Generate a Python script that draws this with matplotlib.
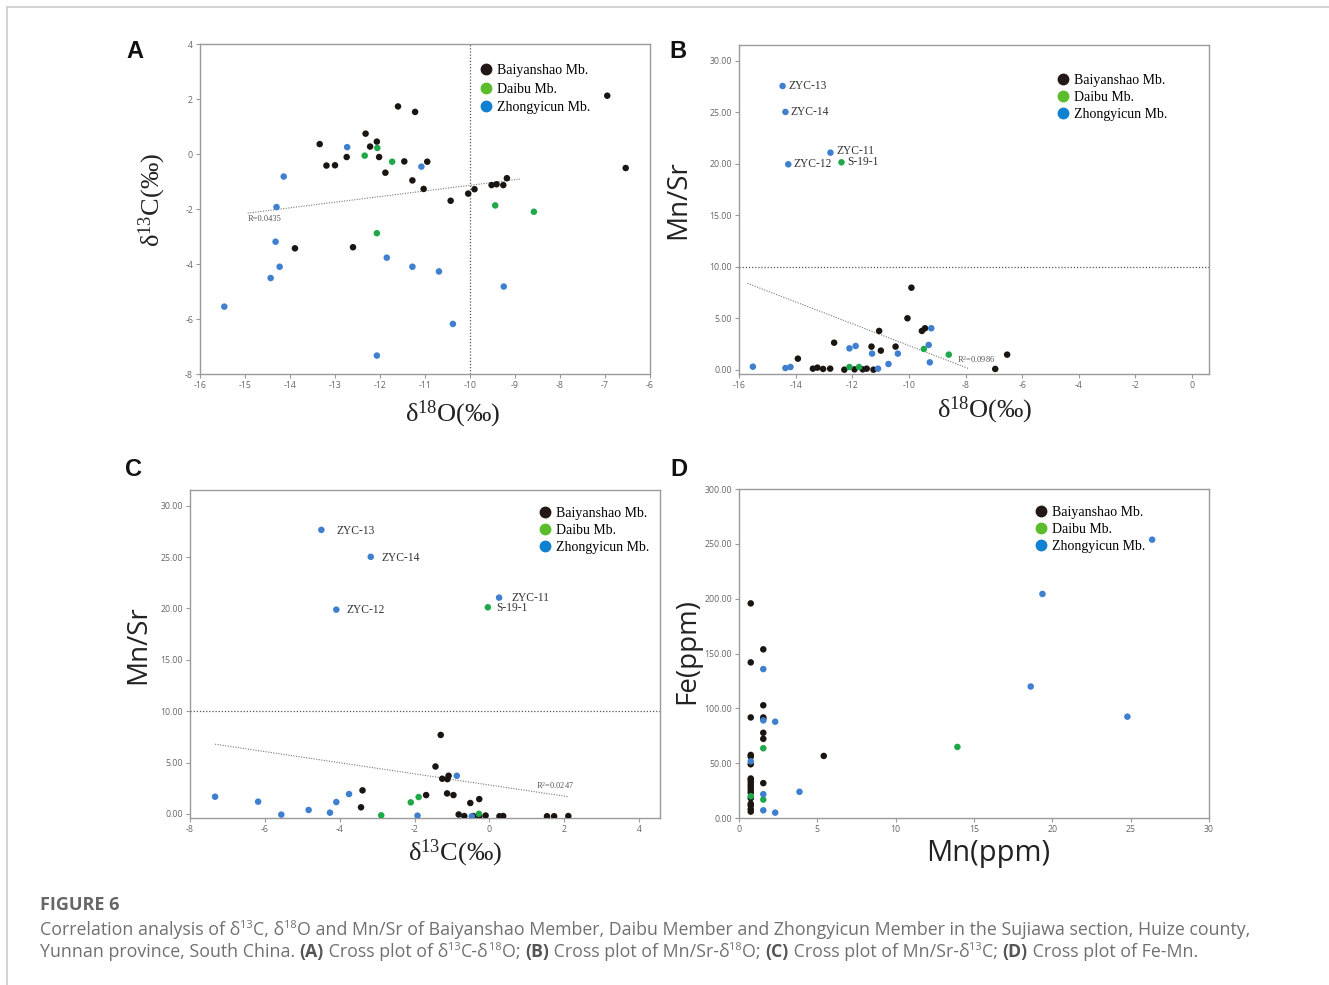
import matplotlib
matplotlib.use('Agg')
import matplotlib.pyplot as plt
from matplotlib.lines import Line2D

plt.rcParams['axes.unicode_minus'] = False
plt.rcParams['mathtext.fontset'] = 'custom'
plt.rcParams['mathtext.rm'] = 'Liberation Serif'
plt.rcParams['mathtext.it'] = 'Liberation Serif:italic'

################################################################################################
# DATA
################################################################################################

groups = ['Baiyanshao Mb.', 'Daibu Mb.', 'Zhongyicun Mb.']

# A: d13C vs d18O
a_black_x = [-13.34, -13.19, -13.00, -12.74, -12.32, -12.22, -12.07, -12.02, -11.60, -11.22, -11.46, -11.88, -11.28,
             -10.95, -11.03, -10.43, -10.04, -9.90, -9.52, -9.41, -9.26, -9.18, -6.95, -6.54, -13.89, -12.60]
a_black_y = [0.36, -0.42, -0.41, -0.11, 0.74, 0.27, 0.45, -0.11, 1.73, 1.53, -0.27, -0.68, -0.96,
             -0.28, -1.27, -1.70, -1.44, -1.28, -1.13, -1.10, -1.13, -0.88, 2.12, -0.51, -3.43, -3.39]
a_green_x = [-12.34, -12.06, -11.73, -12.07, -9.44, -8.58]
a_green_y = [-0.06, 0.22, -0.28, -2.88, -1.87, -2.10]
a_blue_x = [-12.73, -11.08, -14.14, -14.30, -14.32, -14.23, -14.43, -15.46, -11.85, -11.28, -10.69, -9.25, -10.38, -12.07]
a_blue_y = [0.25, -0.46, -0.82, -1.93, -3.19, -4.10, -4.51, -5.55, -3.77, -4.10, -4.27, -4.82, -6.18, -7.33]
a_trend_x = [-14.94, -8.89]
a_trend_y = [-2.15, -0.91]
a_r_text = 'R=0.0435'
a_cutoff_x = -10

# B: Mn/Sr vs d18O
b_black_x = [-9.91, -10.05, -11.05, -9.54, -9.43, -12.64, -11.32, -10.47, -10.99, -13.92, -6.53, -6.95,
             -13.39, -13.23, -13.03, -12.78, -12.28, -11.92, -11.63, -11.49, -11.25]
b_black_y = [7.99, 5.02, 3.79, 3.79, 4.05, 2.65, 2.27, 2.27, 1.88, 1.10, 1.49, 0.10,
             0.13, 0.23, 0.10, 0.13, 0.03, 0.06, 0.06, 0.13, 0.03]
b_green_x = [-12.38, -9.47, -8.59, -12.10, -11.76]
b_green_y = [20.16, 2.04, 1.49, 0.29, 0.29]
b_blue_x = [-14.46, -14.36, -12.77, -14.26, -9.21, -9.30, -9.26, -11.88, -12.10, -11.30, -10.39, -10.72,
            -11.09, -15.51, -14.36, -14.18]
b_blue_y = [27.57, 25.05, 21.10, 19.97, 4.05, 2.43, 0.74, 2.33, 2.10, 1.59, 1.59, 0.58,
            0.13, 0.32, 0.19, 0.29]
b_trend_x = [-15.70, -7.91]
b_trend_y = [8.41, 0.16]
b_r_text = 'R$^2$=0.0986'

# C: Mn/Sr vs d13C
c_black_x = [-1.30, -1.44, -1.26, -1.12, -1.09, -3.39, -1.69, -1.13, -0.96, -0.51, -0.27, -3.43,
             -0.82, -0.67, -0.43, -0.27, -0.10, 0.27, 0.37, 1.54, 1.73, 2.11]
c_black_y = [7.69, 4.62, 3.43, 3.39, 3.72, 2.30, 1.84, 2.00, 1.84, 1.07, 1.45, 0.65,
             -0.05, -0.20, -0.20, -0.20, -0.15, -0.22, -0.20, -0.22, -0.22, -0.20]
c_green_x = [-0.04, -1.89, -2.10, -2.89, -0.28]
c_green_y = [20.11, 1.65, 1.13, -0.13, 0.02]
c_blue_x = [-4.49, -3.17, -4.09, 0.26, -0.87, -7.33, -6.18, -3.75, -4.09, -4.83, -4.26, -5.56, -1.92, -0.47]
c_blue_y = [27.64, 25.02, 19.88, 21.05, 3.72, 1.68, 1.20, 1.94, 1.16, 0.39, 0.13, -0.06, -0.16, -0.23]
c_trend_x = [-7.33, 2.11]
c_trend_y = [6.79, 1.68]
c_r_text = 'R$^2$=0.0247'
mnsr_cutoff = 10

# labelled outliers (same samples in B and C)
out_names = ['ZYC-13', 'ZYC-14', 'ZYC-11', 'ZYC-12', 'S-19-1']
b_out_x = [-14.46, -14.36, -12.77, -14.26, -12.38]
b_out_y = [27.57, 25.05, 21.10, 19.97, 20.16]
c_out_x = [-4.49, -3.17, 0.26, -4.09, -0.04]
c_out_y = [27.64, 25.02, 21.05, 19.88, 20.11]

# D: Fe vs Mn
d_black_x = [0.75, 0.75, 0.75, 0.75, 0.75, 0.75, 0.75, 0.75, 0.75, 0.75, 0.75, 0.75, 0.75, 0.75, 0.75, 0.75,
             0.75, 0.75, 1.55, 1.55, 1.55, 1.55, 1.55, 1.55, 1.55, 5.41]
d_black_y = [195.7, 141.9, 91.7, 57.5, 56.0, 49.0, 36.0, 34.6, 32.4, 30.0, 27.8, 25.4, 23.0, 18.0, 13.0, 11.3,
             8.0, 5.8, 153.8, 102.8, 91.7, 90.5, 77.7, 72.2, 31.8, 56.6]
d_green_x = [0.75, 1.55, 1.55, 13.94]
d_green_y = [19.9, 63.6, 16.8, 64.8]
d_blue_x = [0.75, 1.55, 1.55, 2.31, 1.55, 1.55, 2.31, 3.86, 18.62, 19.37, 24.79, 26.37]
d_blue_y = [51.7, 135.8, 89.0, 87.8, 21.7, 7.0, 4.9, 23.9, 119.9, 204.3, 92.4, 253.8]

################################################################################################
# HELPER STUFF
################################################################################################

W, H = 1329, 985
fig = plt.figure(figsize=(W / 100, H / 100), dpi=100)

pt_colors = ['#1b1512', '#1fa84a', '#3f7fcf']
leg_colors = ['#231815', '#5bbd2b', '#1081d0']
SERIF = 'Liberation Serif'
SANS = ['Open Sans', 'DejaVu Sans']


def rect(l, t, r, b):
    return [l / W, 1 - b / H, (r - l) / W, (b - t) / H]


def ftext(x, y, s, **kw):
    return fig.text(x / W, 1 - y / H, s, **kw)


def style(ax, xlim, ylim, xticks, yticks, yfmt):
    ax.set_xlim(xlim)
    ax.set_ylim(ylim)
    ax.set_xticks(xticks)
    ax.set_yticks(yticks)
    ax.set_xticklabels(['{:g}'.format(v) for v in xticks])
    ax.set_yticklabels([yfmt.format(v) for v in yticks])
    for s in ax.spines.values():
        s.set_color('#9a9a9a')
        s.set_linewidth(1.0)
    ax.tick_params(direction='out', length=3, width=0.8, color='#9a9a9a',
                   labelsize=6.3, labelcolor='#666666', pad=2)
    for lab in ax.get_xticklabels() + ax.get_yticklabels():
        lab.set_family(SANS)


def draw_groups(ax, data):
    for (x, y), c in zip(data, pt_colors):
        ax.scatter(x, y, s=22, color=c, edgecolors='none', zorder=3)


def add_legend(ax, fx, fy, spacing=0.28):
    handles = [Line2D([], [], marker='o', ls='none', color=c, markersize=7.5) for c in leg_colors]
    ax.legend(handles, groups, loc='upper left', bbox_to_anchor=(fx, fy), frameon=False,
              prop=dict(family=SERIF, size=10), handlelength=0.6, handletextpad=0.5,
              labelspacing=spacing, borderaxespad=0, borderpad=0)


def trend(ax, xs, ys, label, lx, ly):
    ax.plot(xs, ys, ls=(0, (1, 1.3)), color='#777777', lw=0.8, zorder=2)
    ax.text(lx, ly, label, family=SERIF, size=6, color='#555555', va='center', ha='left')


serif_lab = dict(family=SERIF, size=19, color='#222222', ha='center', va='center')
sans_lab = dict(family=SANS, size=20, color='#222222', ha='center', va='center')
letter = dict(family='Liberation Sans', weight='bold', size=17, color='#111111', ha='center', va='center')
tag = dict(family=SERIF, size=8.3, color='#333333', va='center', ha='left')

################################################################################################
# PLOT STUFF
################################################################################################

# --- A
axA = fig.add_axes(rect(200, 44, 650, 374))
style(axA, (-16, -6), (-8, 4), list(range(-16, -5)), list(range(-8, 5, 2)), '{:g}')
axA.axvline(a_cutoff_x, ls=(0, (1, 1.5)), color='#555555', lw=0.9, zorder=1)
trend(axA, a_trend_x, a_trend_y, a_r_text, -14.95, -2.36)
draw_groups(axA, [(a_black_x, a_black_y), (a_green_x, a_green_y), (a_blue_x, a_blue_y)])
add_legend(axA, 0.627, 0.939, spacing=0.4)
ftext(152, 200, r'δ$^{13}$C(‰)', rotation=90, **serif_lab)
ftext(453, 414, r'δ$^{18}$O(‰)', **serif_lab)
ftext(135, 52, 'A', **letter)

# --- B
axB = fig.add_axes(rect(739, 45, 1209, 374))
style(axB, (-16, 0.6), (-0.39, 31.55), list(range(-16, 1, 2)), list(range(0, 31, 5)), '{:.2f}')
axB.axhline(mnsr_cutoff, ls=(0, (1, 1.5)), color='#555555', lw=0.9, zorder=1)
trend(axB, b_trend_x, b_trend_y, b_r_text, -8.3, 1.0)
draw_groups(axB, [(b_black_x, b_black_y), (b_green_x, b_green_y), (b_blue_x, b_blue_y)])
for name, x, y in zip(out_names, b_out_x, b_out_y):
    dy = 1.5 if name == 'ZYC-11' else 0
    axB.annotate(name, (x, y), xytext=(4, dy), textcoords='offset points', **tag)
add_legend(axB, 0.681, 0.912)
ftext(678, 200, 'Mn/Sr', rotation=90, **sans_lab)
ftext(985, 410, r'δ$^{18}$O(‰)', **serif_lab)
ftext(678, 52, 'B', **letter)

# --- C
axC = fig.add_axes(rect(190, 490, 660, 818))
style(axC, (-8, 4.56), (-0.39, 31.52), list(range(-8, 5, 2)), list(range(0, 31, 5)), '{:.2f}')
axC.axhline(mnsr_cutoff, ls=(0, (1, 1.5)), color='#555555', lw=0.9, zorder=1)
trend(axC, c_trend_x, c_trend_y, c_r_text, 1.24, 2.8)
draw_groups(axC, [(c_black_x, c_black_y), (c_green_x, c_green_y), (c_blue_x, c_blue_y)])
c_dx = {'ZYC-13': 11, 'ZYC-14': 8, 'ZYC-11': 9, 'ZYC-12': 7.5, 'S-19-1': 6}
for name, x, y in zip(out_names, c_out_x, c_out_y):
    axC.annotate(name, (x, y), xytext=(c_dx[name], -0.5), textcoords='offset points', **tag)
add_legend(axC, 0.747, 0.948)
ftext(138, 645, 'Mn/Sr', rotation=90, **sans_lab)
ftext(455, 853, r'δ$^{13}$C(‰)', **serif_lab)
ftext(134, 469, 'C', **letter)

# --- D
axD = fig.add_axes(rect(739, 489, 1209, 818))
style(axD, (0, 30), (0, 300), list(range(0, 31, 5)), list(range(0, 301, 50)), '{:.2f}')
draw_groups(axD, [(d_black_x, d_black_y), (d_green_x, d_green_y), (d_blue_x, d_blue_y)])
add_legend(axD, 0.634, 0.948)
ftext(687, 651, 'Fe(ppm)', rotation=90, **sans_lab)
ftext(988, 853, 'Mn(ppm)', size=21, **{k: v for k, v in sans_lab.items() if k != 'size'})
ftext(679, 469, 'D', **letter)

# --- page frame lines
fig.add_artist(Line2D([7 / W, 1], [1 - 7 / H, 1 - 7 / H], color='#cccccc', lw=1.2, transform=fig.transFigure))
fig.add_artist(Line2D([7 / W, 7 / W], [1 - 7 / H, 0], color='#cccccc', lw=1.2, transform=fig.transFigure))

################################################################################################
# CAPTION
################################################################################################

cap_size = 12.8
cap_col = '#707070'
renderer = fig.canvas.get_renderer()


def text_width(s, weight, size):
    t = fig.text(0, 0, '|' + s + '|', family=SANS, size=size, weight=weight)
    t0 = fig.text(0, 0, '||', family=SANS, size=size, weight=weight)
    w = t.get_window_extent(renderer).width - t0.get_window_extent(renderer).width
    t.remove()
    t0.remove()
    return w


def caption_line(x, y, parts):
    for s, kind in parts:
        weight = 'bold' if kind == 'b' else 'normal'
        size = cap_size * 0.62 if kind == 's' else cap_size
        col = '#555555' if kind == 'b' else cap_col
        yy = y - 5 if kind == 's' else y
        ftext(x, yy, s, family=SANS, size=size, weight=weight, color=col, va='center', ha='left')
        x += text_width(s, weight, size)


ftext(40, 905, 'FIGURE 6', family=SANS, size=13, weight='bold', color='#666666', va='center', ha='left')
caption_line(40, 930, [('Correlation analysis of δ', 'n'), ('13', 's'), ('C, δ', 'n'), ('18', 's'),
                       ('O and Mn/Sr of Baiyanshao Member, Daibu Member and Zhongyicun Member in the Sujiawa '
                        'section, Huize county,', 'n')])
caption_line(40, 952, [('Yunnan province, South China. ', 'n'), ('(A)', 'b'), (' Cross plot of δ', 'n'), ('13', 's'),
                       ('C-δ', 'n'), ('18', 's'), ('O; ', 'n'), ('(B)', 'b'), (' Cross plot of Mn/Sr-δ', 'n'),
                       ('18', 's'), ('O; ', 'n'), ('(C)', 'b'), (' Cross plot of Mn/Sr-δ', 'n'), ('13', 's'),
                       ('C; ', 'n'), ('(D)', 'b'), (' Cross plot of Fe-Mn.', 'n')])

fig.savefig('out.png', dpi=100)
